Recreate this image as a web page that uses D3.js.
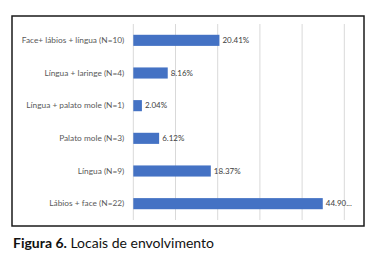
<!DOCTYPE html>
<html><head><meta charset="utf-8">
<script src="https://cdn.jsdelivr.net/npm/d3@7"></script>
<style>body{margin:0;background:#fff;}svg{display:block;}</style>
</head><body>
<script>
const categories = ["Face+ lábios + língua (N=10)","Língua + laringe (N=4)","Língua + palato mole (N=1)","Palato mole (N=3)","Língua (N=9)","Lábios + face (N=22)"];
const values = [20.41, 8.16, 2.04, 6.12, 18.37, 44.90];
const valueLabels = ["20.41%","8.16%","2.04%","6.12%","18.37%","44.90..."];
const xTicks = [0,10,20,30,40,50];

const W=380,H=268;
const svg=d3.select("body").append("svg").attr("width",W).attr("height",H);
svg.append("rect").attr("width",W).attr("height",H).attr("fill","#fff");
svg.append("rect").attr("x",12).attr("y",16).attr("width",352).attr("height",210)
  .attr("fill","none").attr("stroke","#1a1a1a").attr("stroke-width",1.5);

const x=d3.scaleLinear().domain([0,50]).range([133.3,344.3]);
const y=d3.scaleBand().domain(categories).range([24,220]).paddingInner(0.66).paddingOuter(0.33);

const g=svg.append("g");
g.selectAll("line.grid").data(xTicks).join("line").attr("class","grid")
  .attr("x1",d=>x(d)).attr("x2",d=>x(d)).attr("y1",24).attr("y2",220)
  .attr("stroke","#d9d9d9").attr("stroke-width",1);

g.selectAll("rect.bar").data(values).join("rect").attr("class","bar")
  .attr("x",x(0)).attr("y",(d,i)=>y(categories[i]))
  .attr("width",d=>x(d)-x(0)).attr("height",y.bandwidth())
  .attr("fill","#4472c4");

const yAxis=d3.axisLeft(y).tickSize(0).tickPadding(9);
const ya=svg.append("g").attr("transform",`translate(${x(0)},0)`).call(yAxis);
ya.select(".domain").remove();
ya.selectAll("text").attr("font-family","Lato, 'Open Sans', sans-serif").attr("font-size",8.3).attr("fill","#595959");

g.selectAll("text.val").data(values).join("text").attr("class","val")
  .attr("x",d=>x(d)+3).attr("y",(d,i)=>y(categories[i])+y.bandwidth()/2)
  .attr("dy","0.35em").attr("font-family","Lato, 'Open Sans', sans-serif").attr("font-size",8)
  .attr("fill","#404040").text((d,i)=>valueLabels[i]);

const cap=svg.append("text").attr("x",13).attr("y",248).attr("font-family","Lato, 'Open Sans', sans-serif").attr("font-size",14).attr("fill","#111");
cap.append("tspan").attr("font-weight","bold").text("Figura 6.");
cap.append("tspan").text(" Locais de envolvimento");
</script>
</body></html>
